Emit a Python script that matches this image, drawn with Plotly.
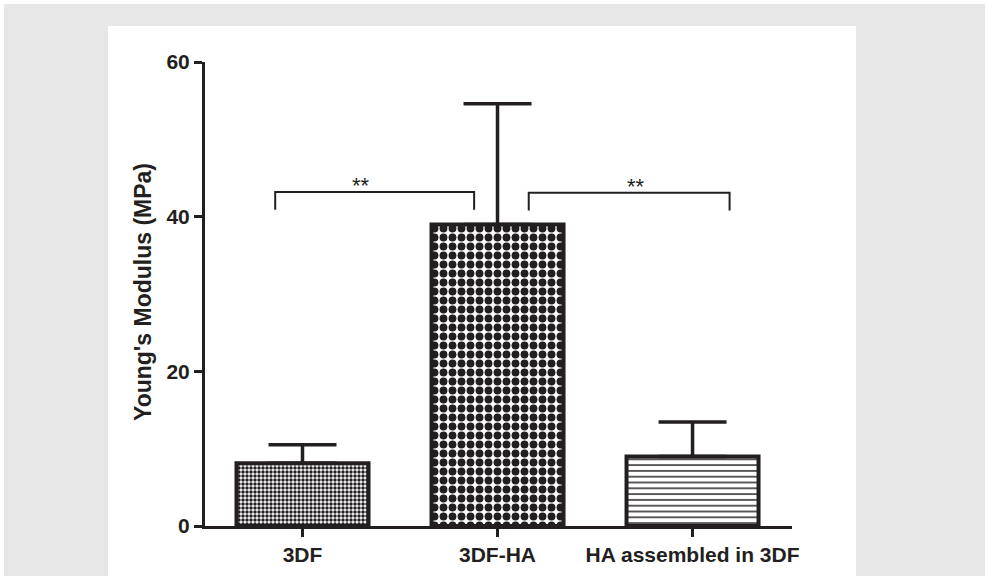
import plotly.graph_objects as go

categories = ["3DF", "3DF-HA", "HA assembled in 3DF"]
means = [8.1, 39.0, 9.0]
errors = [2.4, 15.6, 4.45]
patterns = [".", ".", "-"]
pattern_sizes = [4, 9, 5.8]
pattern_solidity = [0.6, 0.6, 0.25]

y_ticks = [0, 20, 40, 60]

# significance brackets
br_x0 = [-0.14, 1.16]
br_x1 = [0.88, 2.19]
br_top = [43.2, 43.1]
br_drop = 2.3
star_x = [0.30, 1.71]
star_text = ["**", "**"]

INK = "#231f20"
FONT = "Liberation Sans, Arial, sans-serif"

fig = go.Figure()

for i, c in enumerate(categories):
    fig.add_trace(go.Bar(
        x=[i], y=[means[i]], width=0.677,
        marker=dict(
            color="white",
            line=dict(color=INK, width=4),
            pattern=dict(shape=patterns[i], size=pattern_sizes[i],
                         solidity=pattern_solidity[i], fgcolor=INK,
                         bgcolor="white", fillmode="replace"),
        ),
        error_y=dict(type="data", array=[errors[i]], arrayminus=[0],
                     symmetric=False, thickness=3.5, width=34, color=INK),
        showlegend=False, hoverinfo="skip",
    ))

for k in range(len(br_x0)):
    fig.add_trace(go.Scatter(
        x=[br_x0[k], br_x0[k], br_x1[k], br_x1[k]],
        y=[br_top[k] - br_drop, br_top[k], br_top[k], br_top[k] - br_drop],
        mode="lines", line=dict(color=INK, width=2),
        showlegend=False, hoverinfo="skip",
    ))
    fig.add_annotation(x=star_x[k], y=br_top[k] + 0.8, text=star_text[k],
                       showarrow=False, yanchor="middle", xanchor="center",
                       font=dict(family=FONT, size=22, color=INK))

L, R, T, B = 205, 193, 62, 50
W, H = 985, 576
pw, ph = W - L - R, H - T - B


def px(x):
    return (x - L) / pw


def py(y):
    return (H - B - y) / ph


fig.add_shape(type="rect", xref="paper", yref="paper", layer="below",
              x0=px(4), x1=px(985), y0=py(4), y1=py(576),
              fillcolor="#e6e7e6", line=dict(width=0))
fig.add_shape(type="rect", xref="paper", yref="paper", layer="below",
              x0=px(108), x1=px(856), y0=py(26), y1=py(576),
              fillcolor="white", line=dict(width=0))

fig.add_annotation(xref="paper", yref="paper", x=px(143), y=py(292),
                   text="Young's Modulus (MPa)", textangle=-90,
                   showarrow=False, xanchor="center", yanchor="middle",
                   font=dict(family=FONT, size=23, color=INK, weight="bold"))

fig.update_layout(
    width=W, height=H, autosize=False,
    margin=dict(l=L, r=R, t=T, b=B),
    paper_bgcolor="white", plot_bgcolor="white",
    bargap=0.3,
    xaxis=dict(range=[-0.5, 2.51], tickvals=list(range(len(categories))),
               ticktext=categories, showline=True, linewidth=3, linecolor=INK,
               ticks="outside", ticklen=8, tickwidth=2.5, tickcolor=INK,
               tickfont=dict(family=FONT, size=21, color=INK, weight="bold"),
               showgrid=False, zeroline=False, automargin=False),
    yaxis=dict(range=[0, 60], tickvals=y_ticks, showline=True, linewidth=3,
               linecolor=INK, ticks="outside", ticklen=8, tickwidth=2.5,
               tickcolor=INK,
               tickfont=dict(family=FONT, size=21, color=INK, weight="bold"),
               showgrid=False, zeroline=False, automargin=False),
)

fig.write_html("out.html")
